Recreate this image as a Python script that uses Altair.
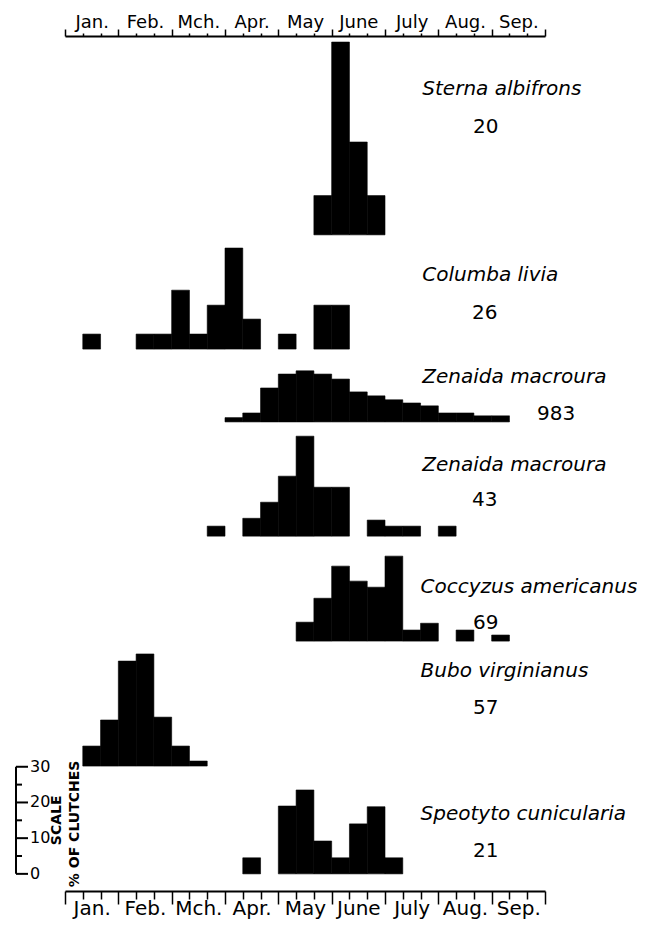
import altair as alt
import pandas as pd

months = ["Jan.", "Feb.", "Mch.", "Apr.", "May", "June", "July", "Aug.", "Sep."]

species = ["Sterna albifrons", "Columba livia", "Zenaida macroura", "Zenaida macroura",
           "Coccyzus americanus", "Bubo virginianus", "Speotyto cunicularia"]
sample_n = ["20", "26", "983", "43", "69", "57", "21"]

# 10-day period index (0 = Jan 1-10, 3 = Feb 1-10, ...) and percent of clutches
sterna_bins = [14, 15, 16, 17]
sterna_pct = [11, 54, 26, 11]
columba_bins = [1, 4, 5, 6, 7, 8, 9, 10, 12, 14, 15]
columba_pct = [4.2, 4.2, 4.2, 16.5, 4.2, 12.3, 28.3, 8.4, 4.2, 12.3, 12.3]
zen983_bins = [9, 10, 11, 12, 13, 14, 15, 16, 17, 18, 19, 20, 21, 22, 23, 24]
zen983_pct = [1.2, 2.5, 9.5, 13.4, 14.3, 13.4, 12.0, 8.4, 7.3, 6.2, 5.3, 4.5, 2.5, 2.5, 1.7, 1.7]
zen43_bins = [8, 10, 11, 12, 13, 14, 15, 17, 18, 19, 21]
zen43_pct = [2.8, 5.0, 9.5, 16.8, 28.0, 13.7, 13.7, 4.5, 2.8, 2.8, 2.8]
cocc_bins = [13, 14, 15, 16, 17, 18, 19, 20, 22, 24]
cocc_pct = [5.3, 12.0, 21.0, 16.8, 15.1, 23.8, 3.1, 5.0, 3.1, 1.7]
bubo_bins = [1, 2, 3, 4, 5, 6, 7]
bubo_pct = [5.6, 12.9, 29.4, 31.4, 13.7, 5.6, 1.4]
speo_bins = [10, 12, 13, 14, 15, 16, 17, 18]
speo_pct = [4.5, 19.0, 23.5, 9.2, 4.5, 14.0, 18.8, 4.5]

scale_major = [0, 10, 20, 30]
scale_minor = [5, 15, 25]
scale_labels = ["0", "10", "20", "30"]

# ---- layout (in scale units: x = 10-day periods, y = percent) ----
row_base = [183.8, 151.8, 131.4, 99.4, 70.0, 35.0, 4.8]
label_x = [20.1, 20.1, 20.1, 20.1, 20.0, 20.0, 20.0]
label_y = [223.0, 170.9, 142.3, 117.6, 83.5, 59.9, 19.9]
n_x = [22.95, 22.9, 26.55, 22.9, 22.95, 22.95, 22.95]
n_y = [212.3, 160.2, 131.9, 107.8, 73.4, 49.6, 9.5]
Y_TOP = 239.5
N_BINS = 27

series = [(sterna_bins, sterna_pct), (columba_bins, columba_pct), (zen983_bins, zen983_pct),
          (zen43_bins, zen43_pct), (cocc_bins, cocc_pct), (bubo_bins, bubo_pct),
          (speo_bins, speo_pct)]

rows = []
for i, (bins, pct) in enumerate(series):
    for b, p in zip(bins, pct):
        rows.append({"row": i, "bin": b, "pct": p, "base": row_base[i]})
bars_df = pd.DataFrame(rows)

labels_df = pd.DataFrame({"species": species, "n": sample_n, "lx": label_x, "ly": label_y,
                          "nx": n_x, "ny": n_y})

FONT = "DejaVu Sans"
xs = alt.Scale(domain=[0, N_BINS], nice=False, zero=False)
ys = alt.Scale(domain=[0, Y_TOP], nice=False, zero=False)

tick_vals = list(range(N_BINS + 1))
month_js = "[" + ",".join("'" + m + "'" for m in months) + "]"
label_expr = "(datum.value % 3 === 0 && datum.value < 27) ? " + month_js + "[datum.value / 3] : ''"
half_month = 480 / 9 / 2

common_axis = dict(values=tick_vals, labelExpr=label_expr, labelOffset=half_month,
                   labelBaseline="alphabetic", labelFont=FONT,
                   labelColor="black", labelFlush=False, labelOverlap=False, labelBound=False,
                   grid=False, domainColor="black", domainWidth=2, tickColor="black",
                   tickWidth=1.5, title=None, labelAngle=0)

bottom_axis = alt.Axis(orient="bottom", labelPadding=10, labelFontSize=20,
                       tickSize={"condition": {"test": "datum.value % 3 === 0", "value": 13}, "value": 8},
                       **common_axis)
top_axis = alt.Axis(orient="top", labelPadding=2, labelFontSize=18,
                    tickSize={"condition": {"test": "datum.value % 3 === 0", "value": 7}, "value": 3},
                    **common_axis)

bars = alt.Chart(bars_df).transform_calculate(
    x2="datum.bin + 1", top="datum.base + datum.pct"
).mark_rect(color="black", stroke="black", strokeWidth=0.6).encode(
    x=alt.X("bin:Q", scale=xs, axis=bottom_axis),
    x2="x2:Q",
    y=alt.Y("base:Q", scale=ys, axis=None),
    y2="top:Q",
)

names = alt.Chart(labels_df).mark_text(
    font=FONT, fontSize=20, fontStyle="italic", align="left", baseline="alphabetic", color="black"
).encode(
    x=alt.X("lx:Q", scale=xs, axis=top_axis),
    y=alt.Y("ly:Q", scale=ys, axis=None),
    text="species:N",
)

counts = alt.Chart(labels_df).mark_text(
    font=FONT, fontSize=20, align="left", baseline="alphabetic", color="black"
).encode(
    x=alt.X("nx:Q", scale=xs, axis=None),
    y=alt.Y("ny:Q", scale=ys, axis=None),
    text="n:N",
)

sb = row_base[6]
bar_df = pd.DataFrame({"y0": [sb], "y1": [sb + 30]})
major_df = pd.DataFrame({"v": scale_major, "lab": scale_labels}).assign(y=lambda d: d["v"] + sb)
minor_df = pd.DataFrame({"v": scale_minor}).assign(y=lambda d: d["v"] + sb)
title_df = pd.DataFrame({"t": ["SCALE", "% OF CLUTCHES"], "y": [sb + 15, sb + 14],
                         "xp": [-8, 10]})

scale_line = alt.Chart(bar_df).mark_rule(color="black", strokeWidth=2).encode(
    x=alt.value(-49), y=alt.Y("y0:Q", scale=ys, axis=None), y2="y1:Q")
scale_major_t = alt.Chart(major_df).mark_rule(color="black", strokeWidth=2).encode(
    x=alt.value(-49), x2=alt.value(-37), y=alt.Y("y:Q", scale=ys, axis=None))
scale_minor_t = alt.Chart(minor_df).mark_rule(color="black", strokeWidth=2).encode(
    x=alt.value(-49), x2=alt.value(-43), y=alt.Y("y:Q", scale=ys, axis=None))
scale_text = alt.Chart(major_df).mark_text(
    font=FONT, fontSize=16, align="left", baseline="middle", color="black"
).encode(x=alt.value(-35), y=alt.Y("y:Q", scale=ys, axis=None), text="lab:N")
scale_title = alt.Chart(title_df).mark_text(
    font=FONT, fontSize=14, fontWeight="bold", angle=270, align="center", baseline="middle",
    color="black"
).encode(x=alt.X("xp:Q", scale=None, axis=None), y=alt.Y("y:Q", scale=ys, axis=None), text="t:N")

chart = alt.layer(
    bars, names, counts, scale_line, scale_major_t, scale_minor_t, scale_text, scale_title
).resolve_axis(x="independent").properties(
    width=480, height=855,
    padding={"left": 57, "top": 28, "right": 92, "bottom": 30},
    autosize=alt.AutoSizeParams(type="none"),
).configure_view(stroke=None)

chart.save("out.html", embed_options={"renderer": "svg", "actions": False})
